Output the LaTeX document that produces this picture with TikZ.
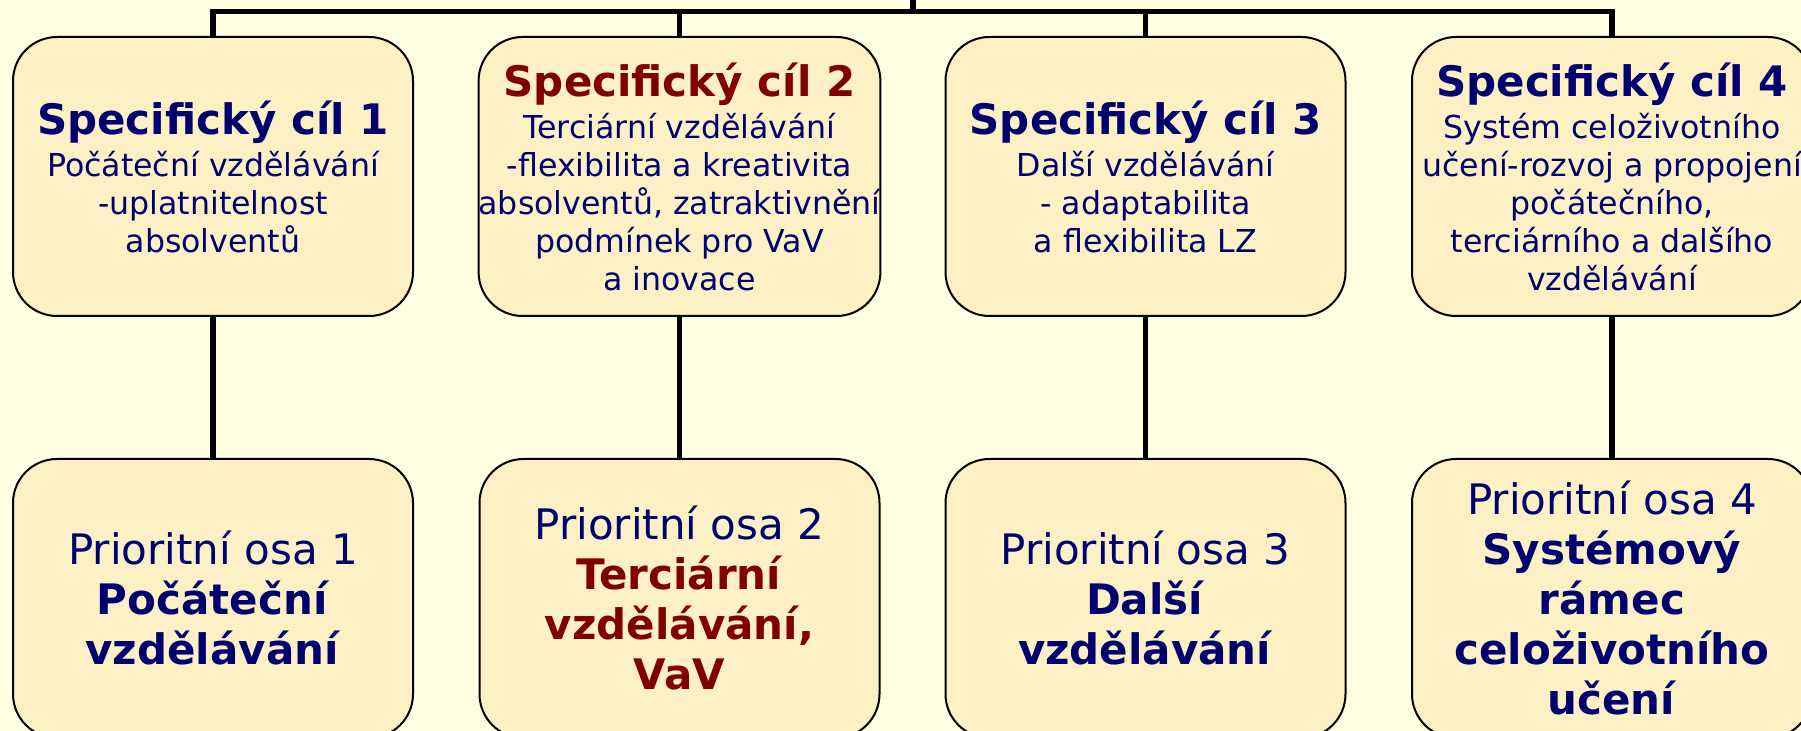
\documentclass[tikz,border=0pt]{standalone}
\usepackage{fontspec}
\setmainfont{DejaVu Sans}
\definecolor{navytext}{RGB}{0,0,110}
\definecolor{darkred}{RGB}{128,0,0}
\definecolor{paper}{RGB}{255,255,226}
\definecolor{boxfill}{RGB}{253,240,197}
\newcommand{\goaltitle}[1]{{\fontsize{21}{25}\selectfont\bfseries #1}\\[2pt]}
\begin{document}
\begin{tikzpicture}[x=0.5pt, y=-0.5pt,
		goal/.style={draw, line width=1pt, fill=boxfill, rounded corners=22pt,
			minimum width=200pt, minimum height=139.5pt, inner sep=0pt, align=center,
			text=navytext, font=\fontsize{15.8}{19}\selectfont},
		axisbox/.style={goal, font=\fontsize{21}{25}\selectfont},
		conn/.style={line width=2.6pt}]
		\useasboundingbox (0,0) rectangle (1801,731);
		\clip (0,0) rectangle (1801,731);
		\fill[paper] (0,0) rectangle (1801,731);
		% specific goals
		\node [goal] (s1) at (213,176.5) {\goaltitle{Specifický cíl 1}Počáteční vzdělávání\\-uplatnitelnost\\absolventů};
		\node [goal] (s2) at (679.5,176.5) {\goaltitle{\textcolor{darkred}{Specifický cíl 2}}Terciární vzdělávání\\-flexibilita a kreativita\\absolventů, zatraktivnění\\podmínek pro VaV\\a inovace};
		\node [goal] (s3) at (1145.5,176.5) {\goaltitle{Specifický cíl 3}Další vzdělávání\\- adaptabilita\\a flexibilita LZ};
		\node [goal] (s4) at (1612,176.5) {\goaltitle{Specifický cíl 4}Systém celoživotního\\učení-rozvoj a propojení\\počátečního,\\terciárního a dalšího\\vzdělávání};
		% priority axes
		\node [axisbox] (p1) at (213,598.5) {Prioritní osa 1\\\textbf{Počáteční}\\\textbf{vzdělávání}};
		\node [axisbox] (p2) at (679.5,598.5) {Prioritní osa 2\\\textcolor{darkred}{\textbf{Terciární}}\\\textcolor{darkred}{\textbf{vzdělávání,}}\\\textcolor{darkred}{\textbf{VaV}}};
		\node [axisbox] (p3) at (1145.5,598.5) {Prioritní osa 3\\\textbf{Další}\\\textbf{vzdělávání}};
		\node [axisbox] (p4) at (1612,598.5) {Prioritní osa 4\\\textbf{Systémový}\\\textbf{rámec}\\\textbf{celoživotního}\\\textbf{učení}};
		% tree lines
		\coordinate (root) at (913,-20);
		\coordinate (bus) at (913,11.5);
		\draw [conn] (root) -- (bus);
		\draw [conn] (bus) -| (s1.north);
		\draw [conn] (bus) -| (s2.north);
		\draw [conn] (bus) -| (s3.north);
		\draw [conn] (bus) -| (s4.north);
		\draw [conn] (s1) -- (p1);
		\draw [conn] (s2) -- (p2);
		\draw [conn] (s3) -- (p3);
		\draw [conn] (s4) -- (p4);
	\end{tikzpicture}
\end{document}
